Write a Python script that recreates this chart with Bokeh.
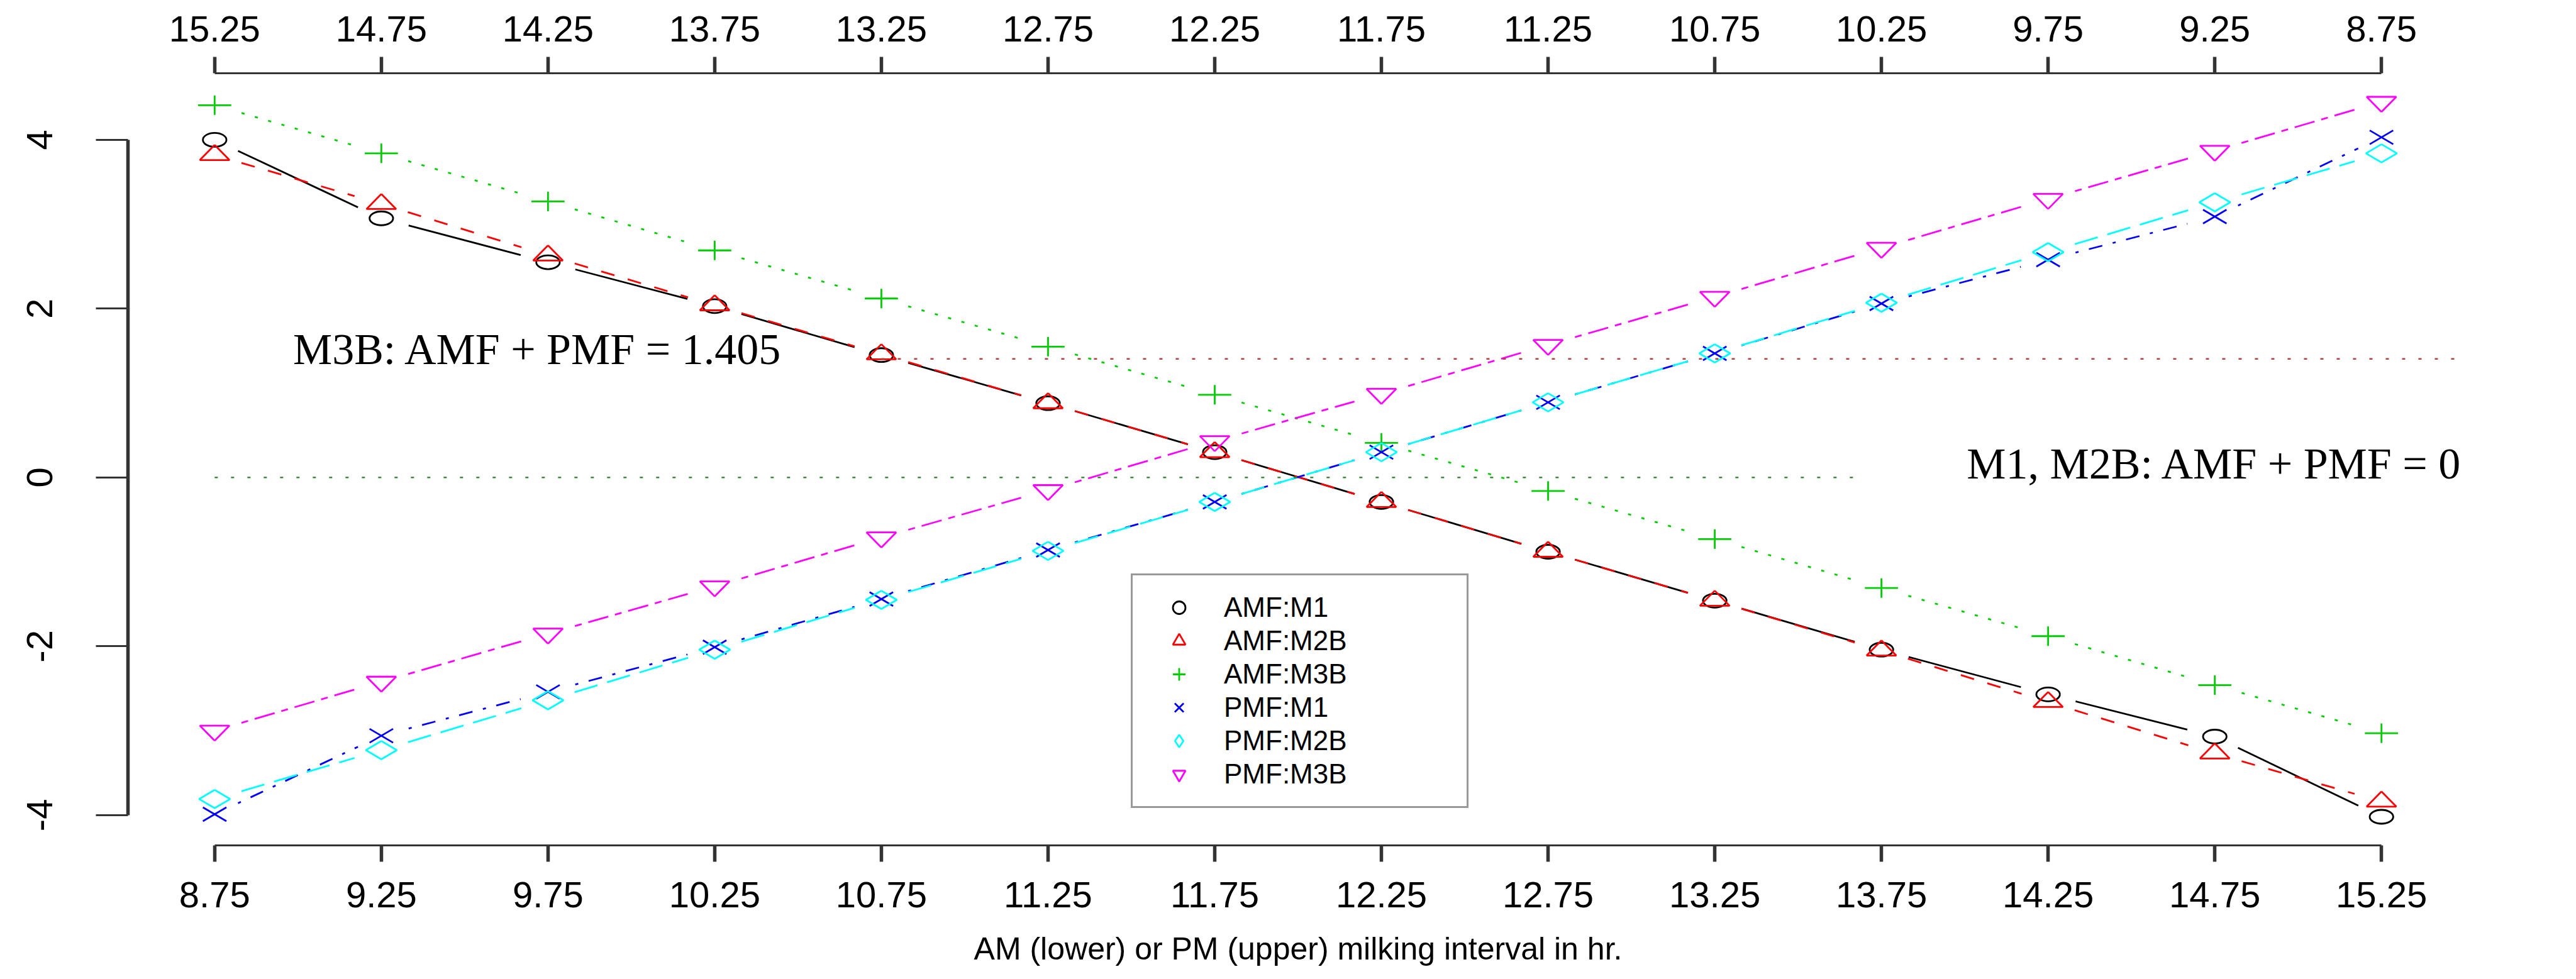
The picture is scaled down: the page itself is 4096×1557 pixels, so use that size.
import numpy as np
from bokeh.plotting import figure
from bokeh.models import (Range1d, LinearAxis, FixedTicker, PrintfTickFormatter,
                          Legend, LegendItem, Label)
from bokeh.embed import file_html
from bokeh.resources import INLINE

# ---------------- data ----------------
am_interval = [8.75, 9.25, 9.75, 10.25, 10.75, 11.25, 11.75,
               12.25, 12.75, 13.25, 13.75, 14.25, 14.75, 15.25]
pm_interval = [15.25, 14.75, 14.25, 13.75, 13.25, 12.75, 12.25,
               11.75, 11.25, 10.75, 10.25, 9.75, 9.25, 8.75]
amf_m1 = [4.00, 3.07, 2.55, 2.03, 1.45, 0.88, 0.30,
          -0.29, -0.88, -1.46, -2.04, -2.57, -3.07, -4.02]
amf_m2b = [3.82, 3.24, 2.63, 2.04, 1.46, 0.88, 0.30,
           -0.29, -0.88, -1.46, -2.05, -2.66, -3.27, -3.84]
amf_m3b = [4.41, 3.84, 3.27, 2.69, 2.12, 1.55, 0.98,
           0.41, -0.16, -0.73, -1.31, -1.88, -2.46, -3.03]
pmf_m1 = [-3.99, -3.06, -2.54, -2.01, -1.44, -0.86, -0.29,
          0.30, 0.89, 1.47, 2.06, 2.58, 3.09, 4.03]
pmf_m2b = [-3.81, -3.23, -2.64, -2.04, -1.45, -0.87, -0.29,
           0.30, 0.89, 1.47, 2.07, 2.67, 3.26, 3.84]
pmf_m3b = [-3.00, -2.42, -1.85, -1.29, -0.71, -0.15, 0.43,
           0.99, 1.57, 2.14, 2.72, 3.30, 3.87, 4.45]
series_names = ["AMF:M1", "AMF:M2B", "AMF:M3B", "PMF:M1", "PMF:M2B", "PMF:M3B"]
series_values = [amf_m1, amf_m2b, amf_m3b, pmf_m1, pmf_m2b, pmf_m3b]

x_ticks = am_interval
top_ticks = pm_interval
y_ticks = [-4, -2, 0, 2, 4]
hours_per_day = 24.0

m3b_sum = 1.405
m3b_line_x = [10.75, 15.5]
m1_sum = 0.0
m1_line_x = [8.75, 13.7]

note_m3b = "M3B: AMF + PMF = 1.405"
note_m1 = "M1, M2B: AMF + PMF = 0"
x_title = "AM (lower) or PM (upper) milking interval in hr."

# ---------------- layout / style ----------------
FRAME_W, FRAME_H = 3721, 1228
B_LEFT, B_RIGHT, B_TOP, B_BOTTOM = 203, 172, 116, 213
STRETCH = 1.7          # the reference is stretched horizontally
LW = 2.8
AX = "#333333"
SANS = "Liberation Sans"
SERIF = "Liberation Serif"
TICK_FONT = "58px"
NOTE_M3B_AT = (9.72, 1.515)
NOTE_M1_AT = (14.75, 0.163)

styles = [
    dict(color="#000000", dash="solid", marker="circle"),
    dict(color="#FF0000", dash="22 22", marker="triangle"),
    dict(color="#00CD00", dash="5 17", marker="cross"),
    dict(color="#0000FF", dash="5 17 22 17", marker="x"),
    dict(color="#00FFFF", dash="38 16", marker="diamond"),
    dict(color="#FF00FF", dash="11 11 33 11", marker="inverted_triangle"),
]


def padded(lo, hi):
    r = hi - lo
    return lo - 0.04 * r, hi + 0.04 * r


x_lo, x_hi = padded(min(am_interval), max(am_interval))
all_y = np.concatenate([np.asarray(v, float) for v in series_values])
y_lo, y_hi = padded(all_y.min(), all_y.max())
XPPU = FRAME_W / (x_hi - x_lo)
YPPU = FRAME_H / (y_hi - y_lo)

p = figure(frame_width=FRAME_W, frame_height=FRAME_H,
           x_range=Range1d(x_lo, x_hi), y_range=Range1d(y_lo, y_hi),
           output_backend="svg", toolbar_location=None,
           min_border_left=B_LEFT, min_border_right=B_RIGHT,
           min_border_top=B_TOP, min_border_bottom=B_BOTTOM)
p.extra_x_ranges = {"pm": Range1d(hours_per_day - x_lo, hours_per_day - x_hi)}
p.grid.visible = False
p.outline_line_color = None
p.background_fill_color = "white"
p.border_fill_color = "white"


def style_axis(ax, line_w, tick_w, tick_len, standoff):
    ax.axis_line_color = AX
    ax.axis_line_width = line_w
    ax.major_tick_line_color = AX
    ax.major_tick_line_width = tick_w
    ax.major_tick_in = 0
    ax.major_tick_out = tick_len
    ax.minor_tick_line_color = None
    ax.major_label_text_font = SANS
    ax.major_label_text_font_size = TICK_FONT
    ax.major_label_text_color = "black"
    ax.major_label_standoff = standoff


xb = p.xaxis[0]
xb.ticker = FixedTicker(ticks=x_ticks)
xb.formatter = PrintfTickFormatter(format="%.2f")
xb.bounds = (min(x_ticks), max(x_ticks))
style_axis(xb, 3, 5.5, 26, 32)
xb.axis_label = x_title
xb.axis_label_text_font = SANS
xb.axis_label_text_font_style = "normal"
xb.axis_label_text_font_size = "50px"
xb.axis_label_text_color = "black"
xb.axis_label_standoff = 35

yl = p.yaxis[0]
yl.ticker = FixedTicker(ticks=y_ticks)
yl.formatter = PrintfTickFormatter(format="%d")
yl.bounds = (min(y_ticks), max(y_ticks))
style_axis(yl, 5.5, 3, 51, 69)
yl.major_label_orientation = "vertical"

xt = LinearAxis(x_range_name="pm", ticker=FixedTicker(ticks=top_ticks),
                formatter=PrintfTickFormatter(format="%.2f"),
                bounds=(min(top_ticks), max(top_ticks)))
style_axis(xt, 3, 5.5, 26, 25)
p.add_layout(xt, "above")

# marker outlines in screen px (x will be stretched), y up
r_tri, h_plus, h_x, h_dia, r_circ = 16.0, 15.5, 11.0, 14.5, 11.0
SHAPES = {
    "triangle": [[(0, r_tri), (0.866 * r_tri, -0.5 * r_tri),
                  (-0.866 * r_tri, -0.5 * r_tri), (0, r_tri)]],
    "inverted_triangle": [[(0, -r_tri), (0.866 * r_tri, 0.5 * r_tri),
                           (-0.866 * r_tri, 0.5 * r_tri), (0, -r_tri)]],
    "cross": [[(-h_plus, 0), (h_plus, 0)], [(0, -h_plus), (0, h_plus)]],
    "x": [[(-h_x, -h_x), (h_x, h_x)], [(-h_x, h_x), (h_x, -h_x)]],
    "diamond": [[(0, h_dia), (h_dia, 0), (0, -h_dia), (-h_dia, 0), (0, h_dia)]],
}


def shape_lines(xv, yv, paths):
    xs, ys = [], []
    for x, y in zip(xv, yv):
        for path in paths:
            xs.append([x + ox * STRETCH / XPPU for ox, oy in path])
            ys.append([y + oy / YPPU for ox, oy in path])
    return xs, ys


def gapped(xv, yv, gap):
    x = np.asarray(xv, float)
    y = np.asarray(yv, float)
    dx, dy = np.diff(x), np.diff(y)
    d = np.hypot(dx * XPPU / STRETCH, dy * YPPU)
    f = gap / d
    return x[:-1] + f * dx, y[:-1] + f * dy, x[1:] - f * dx, y[1:] - f * dy


for vals, st in zip(series_values, styles):
    x0, y0, x1, y1 = gapped(am_interval, vals, 28)
    p.segment(x0=x0, y0=y0, x1=x1, y1=y1, line_color=st["color"],
              line_width=LW, line_dash=st["dash"])
    if st["marker"] == "circle":
        p.ellipse(x=am_interval, y=vals, width=2 * r_circ * STRETCH / XPPU,
                  height=2 * r_circ / YPPU, fill_color=None,
                  line_color=st["color"], line_width=LW)
    else:
        xs, ys = shape_lines(am_interval, vals, SHAPES[st["marker"]])
        p.multi_line(xs=xs, ys=ys, line_color=st["color"], line_width=LW)

# reference lines
p.line(x=m3b_line_x, y=[m3b_sum, m3b_sum], line_color="#B04040",
       line_width=2.4, line_dash="5 21")
p.line(x=m1_line_x, y=[m1_sum, m1_sum], line_color="#2B7D2B",
       line_width=2.4, line_dash="5 21")

# annotations
for (nx, ny), txt in ((NOTE_M3B_AT, note_m3b), (NOTE_M1_AT, note_m1)):
    p.add_layout(Label(x=nx, y=ny, text=txt, text_font=SERIF,
                       text_font_size="70px", text_color="black",
                       text_align="center", text_baseline="middle"))

# legend
items = []
for name, st in zip(series_names, styles):
    r = p.scatter(x=[np.nan], y=[np.nan], marker=st["marker"], size=20,
                  line_color=st["color"], fill_color=None, line_width=LW)
    items.append(LegendItem(label=name, renderers=[r]))
legend = Legend(items=items, location=(1595, 59))
legend.margin = 0
legend.padding = 26
legend.spacing = 3
legend.glyph_width = 95
legend.glyph_height = 50
legend.label_height = 50
legend.label_width = 360
legend.label_standoff = 24
legend.label_text_font = SANS
legend.label_text_font_size = "44px"
legend.label_text_color = "black"
legend.border_line_color = AX
legend.border_line_width = 3
legend.background_fill_color = "white"
legend.background_fill_alpha = 1.0
p.add_layout(legend, "center")

open("out.html", "w").write(file_html(p, INLINE))
